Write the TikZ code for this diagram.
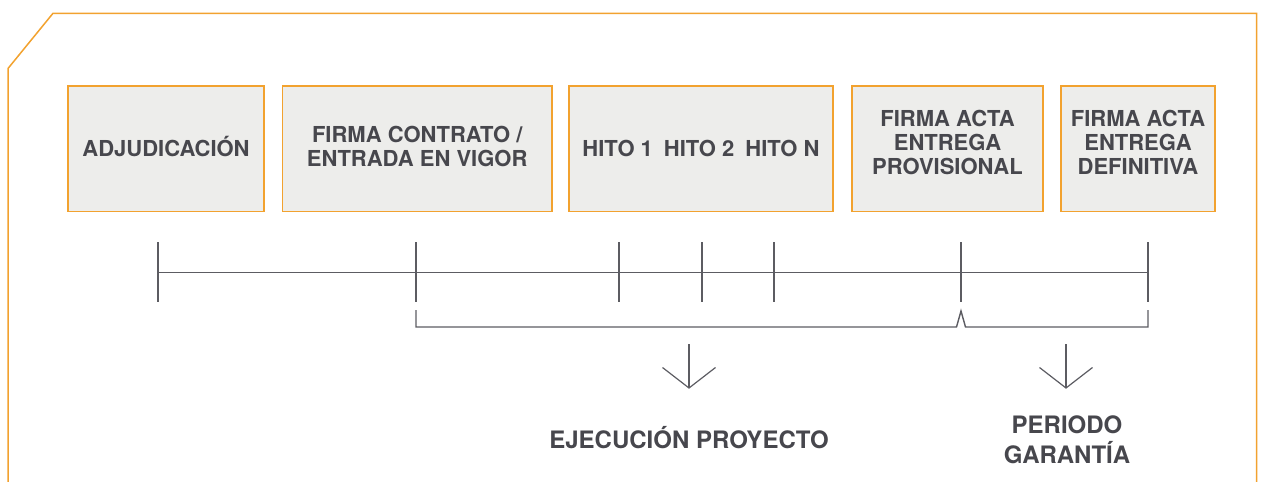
\documentclass[tikz,border=0pt]{standalone}
\usepackage{fontspec}
\setmainfont{TeX Gyre Heros}
\definecolor{frameorange}{HTML}{F2A22F}
\definecolor{boxfill}{HTML}{EDEDEB}
\definecolor{txtgray}{HTML}{47474D}
\definecolor{linegray}{HTML}{5C5C62}
\tikzset{
  stagebox/.style={draw=frameorange, line width=1.6pt, fill=boxfill,
    minimum height=125.5pt, inner sep=0pt, align=center, text=txtgray,
    font=\bfseries\fontsize{22}{24}\selectfont},
  boxtext/.style={inner sep=0pt, align=center, text=txtgray,
    font=\bfseries\fontsize{22}{24}\selectfont},
  tline/.style={draw=linegray, line width=1.4pt},
  biglabel/.style={text=txtgray, align=center, inner sep=0pt,
    font=\bfseries\fontsize{24}{29.5}\selectfont},
}
\begin{document}
\begin{tikzpicture}[x=1pt,y=-1pt]
\useasboundingbox (0,0) rectangle (1262,482);
% outer frame
\draw[draw=frameorange, line width=1.5pt] (8,482) -- (8,68.5) -- (53,13.3) -- (1256.5,13.3) -- (1256.5,482);
% stage boxes
\node[stagebox, minimum width=196.5pt, text height=15.8pt, text depth=0pt] (adj) at (166,148.8) {ADJUDICACIÓN};
\node[stagebox, minimum width=269.5pt] (firma) at (417.2,148.8) {};
\node[boxtext] (firmatxt) at ([yshift=2.5pt]firma.center) {FIRMA CONTRATO /\\ENTRADA EN VIGOR};
\node[stagebox, minimum width=264.5pt, text height=15.8pt, text depth=0pt] (hitos) at (701,148.8) {HITO 1\hspace{0.5em}HITO 2\hspace{0.5em}HITO N};
\node[stagebox, minimum width=191.5pt] (prov) at (947.5,148.8) {};
\node[boxtext] (provtxt) at ([yshift=6.8pt]prov.center) {FIRMA ACTA\\ENTREGA\\PROVISIONAL};
\node[stagebox, minimum width=154.5pt] (defi) at (1138,148.8) {};
\node[boxtext] (defitxt) at ([yshift=6.8pt]defi.center) {FIRMA ACTA\\ENTREGA\\DEFINITIVA};
% timeline
\coordinate (t0) at (158,272.5);
\coordinate (t1) at (416,272.5);
\coordinate (t2) at (619,272.5);
\coordinate (t3) at (702,272.5);
\coordinate (t4) at (774,272.5);
\coordinate (t5) at (961,272.5);
\coordinate (t6) at (1148,272.5);
\draw[tline] (t0) -- (t6);
\foreach \t in {t0,t1,t2,t3,t4,t5,t6}
  \draw[tline] ([yshift=30.5pt]\t) -- ([yshift=-29.5pt]\t);
% brackets
\coordinate (bL) at (416,310);
\coordinate (bLc) at (416,327);
\coordinate (bM1) at (956.5,327);
\coordinate (bPk) at (961,311);
\coordinate (bM2) at (965.5,327);
\coordinate (bRc) at (1148,327);
\coordinate (bR) at (1148,310);
\draw[tline] (bL) -- (bLc) -- (bM1) -- (bPk) -- (bM2) -- (bRc) -- (bR);
% arrows
\coordinate (a1s) at (689,344);
\coordinate (a1e) at (689,388);
\coordinate (a2s) at (1066,344);
\coordinate (a2e) at (1066,388);
\foreach \s/\e in {a1s/a1e,a2s/a2e}{
  \draw[tline, line width=1.2pt] (\s) -- (\e);
  \draw[tline, line width=1.2pt] ([xshift=-26.5pt,yshift=20.5pt]\e) -- (\e) -- ([xshift=26.5pt,yshift=20.5pt]\e);
}
% labels
\node[biglabel, anchor=base] (ejec) at (689,448.5) {EJECUCIÓN PROYECTO};
\node[biglabel] (garan) at (1067,439.8) {PERIODO\\GARANTÍA};
\end{tikzpicture}
\end{document}
